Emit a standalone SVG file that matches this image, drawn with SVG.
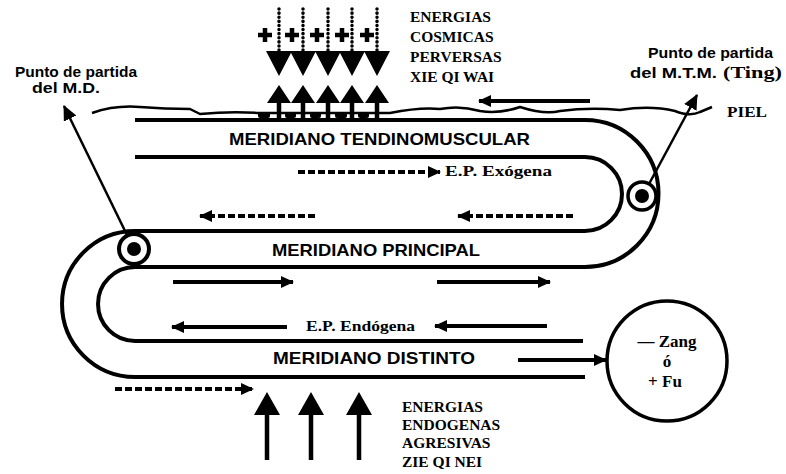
<svg xmlns="http://www.w3.org/2000/svg" width="786" height="474" viewBox="0 0 786 474">
<style>
.ln{fill:none;stroke:#000;stroke-width:4}
.skin{fill:none;stroke:#000;stroke-width:2.5;stroke-linejoin:round}
.arr{fill:none;stroke:#000;stroke-width:4}
.dash{fill:none;stroke:#000;stroke-width:4;stroke-dasharray:7 3}
.dot{fill:none;stroke:#000;stroke-width:3.5;stroke-dasharray:0.1 4;stroke-linecap:round}
.thin{fill:none;stroke:#000;stroke-width:2.5}
.head{fill:#000}
.mer{font-family:"Liberation Sans",Arial,sans-serif;font-weight:bold;font-size:16.5px}
.ser{font-family:"Liberation Serif","Times New Roman",serif;font-weight:bold;font-size:15.5px}
.pt{font-family:"Liberation Sans",Arial,sans-serif;font-weight:bold;font-size:14px}
</style>
<defs>
<marker id="ah" markerUnits="userSpaceOnUse" markerWidth="14" markerHeight="12" refX="12" refY="6" orient="auto">
<path d="M0,0 L13,6 L0,12 Z" class="head"/>
</marker>
<marker id="ahb" markerUnits="userSpaceOnUse" markerWidth="16" markerHeight="14" refX="14" refY="7" orient="auto">
<path d="M0,0 L15,7 L0,14 Z" class="head"/>
</marker>
</defs>
<rect width="786" height="474" fill="#fff"/>

<g id="skin">
<path class="skin" d="M92,113 Q115,105 140,107 T190,109 L200,114 Q230,111 260,113 L390,113 Q420,107 440,109 Q460,105 480,111 Q500,114 520,107 Q545,115 560,111 Q590,107 620,110 Q650,105 675,111 Q690,117 700,112 L712,107"/>
<rect x="258" y="112" width="12" height="6" rx="2" class="head"/>
<rect x="285" y="112" width="11" height="6" rx="2" class="head"/>
<rect x="310" y="112" width="11" height="6" rx="2" class="head"/>
<rect x="335" y="112" width="12" height="6" rx="2" class="head"/>
<rect x="358" y="112" width="11" height="6" rx="2" class="head"/>
</g>

<g id="meridians">
<path class="ln" d="M135,120 H585 A73.5,73.5 0 0 1 585,267 H135 A37,37 0 0 0 135,341 H583"/>
<path class="ln" d="M135,157 H585 A37,37 0 0 1 585,231 H135 A73,73 0 0 0 135,377 H585"/>
</g>

<g id="cosmic-arrows">
<path class="dot" d="M279,9 V52 M303,9 V52 M328,9 V52 M352,9 V52 M377,9 V52"/>
<path class="head" d="M266,51 H292 L279,76 Z M290,51 H316 L303,76 Z M315,51 H341 L328,76 Z M339,51 H365 L352,76 Z M364,51 H390 L377,76 Z"/>
<path stroke="#000" stroke-width="4.5" fill="none" d="M258,35 H272 M265,28 V42 M285,35 H299 M292,28 V42 M310,35 H324 M317,28 V42 M335,35 H349 M342,28 V42 M360,35 H374 M367,28 V42"/>
<path class="head" d="M279,85 L291,103 H267 Z M303,85 L315,103 H291 Z M328,85 L340,103 H316 Z M352,85 L364,103 H340 Z M377,85 L389,103 H365 Z"/>
<path stroke="#000" stroke-width="4.5" d="M279,102 V118 M303,102 V118 M328,102 V118 M352,102 V118 M377,102 V118"/>
</g>

<g id="endo-arrows">
<path class="head" d="M267,392 L280,415 H254 Z M311,392 L324,415 H298 Z M359,392 L372,415 H346 Z"/>
<path stroke="#000" stroke-width="4.5" d="M267,414 V460 M311,414 V460 M359,414 V460"/>
</g>

<g id="connectors">
<path class="arr" d="M590,101 H479" marker-end="url(#ah)"/>
<path class="dash" d="M298,172 H440" marker-end="url(#ah)"/>
<path class="dash" d="M315,216 H200" marker-end="url(#ah)"/>
<path class="dash" d="M573,216 H458" marker-end="url(#ah)"/>
<path class="arr" d="M173,282 H293" marker-end="url(#ah)"/>
<path class="arr" d="M437,282 H550" marker-end="url(#ah)"/>
<path class="arr" d="M287,327 H172" marker-end="url(#ah)"/>
<path class="arr" d="M547,326 H435" marker-end="url(#ah)"/>
<path class="arr" d="M518,360 H606" marker-end="url(#ah)"/>
<path class="dash" d="M115,389 H253" marker-end="url(#ah)"/>
<path class="thin" d="M127,235 L64,106" marker-end="url(#ahb)"/>
<path class="thin" d="M649,184 L697,95" marker-end="url(#ahb)"/>
</g>

<g id="bend-left">
<circle cx="134" cy="249" r="15" fill="#fff" stroke="#000" stroke-width="4"/>
<circle cx="134" cy="249" r="7" class="head"/>
</g>
<g id="bend-right">
<circle cx="642" cy="196" r="14" fill="#fff" stroke="#000" stroke-width="3.5"/>
<circle cx="642" cy="196" r="7" class="head"/>
</g>

<g id="zang-fu">
<circle cx="667" cy="361" r="60" fill="#fff" stroke="#000" stroke-width="3.5"/>
<text class="ser" x="667" y="347" text-anchor="middle" style="font-size:17px">— Zang</text>
<text class="ser" x="667" y="367" text-anchor="middle" style="font-size:17px">ó</text>
<text class="ser" x="665" y="387" text-anchor="middle" style="font-size:17px">+ Fu</text>
</g>

<g id="labels">
<text class="mer" x="229" y="145" textLength="301" lengthAdjust="spacingAndGlyphs">MERIDIANO TENDINOMUSCULAR</text>
<text class="mer" x="272" y="256" textLength="208" lengthAdjust="spacingAndGlyphs">MERIDIANO PRINCIPAL</text>
<text class="mer" x="273" y="364" textLength="202" lengthAdjust="spacingAndGlyphs">MERIDIANO DISTINTO</text>
<text class="ser" x="445" y="176" textLength="107" lengthAdjust="spacingAndGlyphs">E.P. Exógena</text>
<text class="ser" x="306" y="331" textLength="109" lengthAdjust="spacingAndGlyphs">E.P. Endógena</text>
<text class="ser" x="410" y="22">ENERGIAS</text>
<text class="ser" x="410" y="42">COSMICAS</text>
<text class="ser" x="410" y="62">PERVERSAS</text>
<text class="ser" x="410" y="82">XIE QI WAI</text>
<text class="ser" x="402" y="412">ENERGIAS</text>
<text class="ser" x="402" y="430">ENDOGENAS</text>
<text class="ser" x="402" y="448">AGRESIVAS</text>
<text class="ser" x="402" y="467">ZIE QI NEI</text>
<text class="pt" x="15" y="77" textLength="122" lengthAdjust="spacingAndGlyphs">Punto de partida</text>
<text class="pt" x="32" y="93" textLength="68" lengthAdjust="spacingAndGlyphs">del M.D.</text>
<text class="pt" x="648" y="58" textLength="125" lengthAdjust="spacingAndGlyphs">Punto de partida</text>
<text class="pt" x="630" y="78" textLength="87" lengthAdjust="spacingAndGlyphs">del M.T.M.</text>
<text class="ser" x="723" y="78" style="font-size:17px" textLength="59" lengthAdjust="spacingAndGlyphs">(Ting)</text>
<text class="ser" x="727" y="117" textLength="40" lengthAdjust="spacingAndGlyphs">PIEL</text>
</g>
</svg>
